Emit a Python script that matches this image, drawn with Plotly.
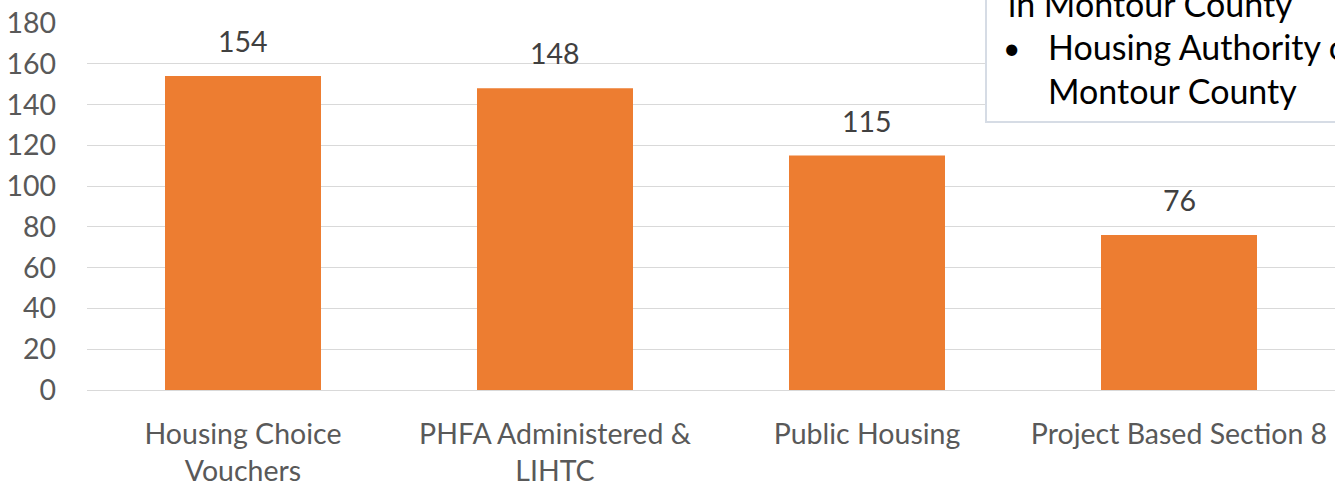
import plotly.graph_objects as go

categories = ["Housing Choice<br>Vouchers", "PHFA Administered &<br>LIHTC",
              "Public Housing", "Project Based Section 8"]
values = [154, 148, 115, 76]
y_ticks = [0, 20, 40, 60, 80, 100, 120, 140, 160, 180]
box_lines = ["in Montour County", "Housing Authority of", "Montour County"]

FONT = "Lato"
FS = 28.5
W, H = 1335, 483
ML, MR, MT, MB = 87, 0, 23, 93
PW, PH = W - ML - MR, H - MT - MB

def px_x(px):
    return (px - ML) / PW

def px_y(py):
    return (H - MB - py) / PH

fig = go.Figure()
fig.add_trace(go.Bar(
    x=categories, y=values, width=0.5,
    marker=dict(color="#ED7D31", line=dict(width=0)),
    hoverinfo="skip",
))

for c, v in zip(categories, values):
    fig.add_annotation(x=c, y=v, text=str(v), showarrow=False,
                       yshift=35, yanchor="middle", xanchor="center",
                       font=dict(family=FONT, size=FS, color="#404040"))

# text box (partially outside the figure, as in the reference)
fig.add_shape(type="rect", xref="paper", yref="paper",
              x0=px_x(986), x1=px_x(1400), y0=px_y(122), y1=px_y(-60),
              fillcolor="white", line=dict(color="#D6DCE5", width=2),
              layer="above")

box_font = dict(family=FONT, size=34, color="#000000")
fig.add_annotation(xref="paper", yref="paper", x=px_x(1006), y=px_y(3),
                   text=box_lines[0], showarrow=False, xanchor="left",
                   yanchor="middle", font=box_font)
fig.add_annotation(xref="paper", yref="paper", x=px_x(1001), y=px_y(47),
                   text="•", showarrow=False, xanchor="left",
                   yanchor="middle", font=dict(family=FONT, size=30, color="#000000"))
fig.add_annotation(xref="paper", yref="paper", x=px_x(1046), y=px_y(46),
                   text=box_lines[1], showarrow=False, xanchor="left",
                   yanchor="middle", font=box_font)
fig.add_annotation(xref="paper", yref="paper", x=px_x(1046), y=px_y(91),
                   text=box_lines[2], showarrow=False, xanchor="left",
                   yanchor="middle", font=box_font)

fig.update_layout(
    width=W, height=H,
    margin=dict(l=ML, r=MR, t=MT, b=MB, pad=0, autoexpand=False),
    plot_bgcolor="white", paper_bgcolor="white",
    showlegend=False, bargap=0.5,
    font=dict(family=FONT, size=FS, color="#595959"),
    xaxis=dict(showgrid=False, showline=False, ticks="", automargin=False,
               tickfont=dict(family=FONT, size=FS, color="#595959"),
               ticklabelstandoff=24),
    yaxis=dict(range=[0, 180], tickvals=y_ticks, showgrid=True, automargin=False,
               gridcolor="#D9D9D9", gridwidth=1,
               zeroline=True, zerolinecolor="#D9D9D9", zerolinewidth=1,
               showline=False, ticks="",
               tickfont=dict(family=FONT, size=FS, color="#595959"),
               ticklabelstandoff=30),
)

fig.write_html("out.html", config={"displayModeBar": False},
               post_script="document.body.style.margin='0';document.body.style.overflow='hidden';")
